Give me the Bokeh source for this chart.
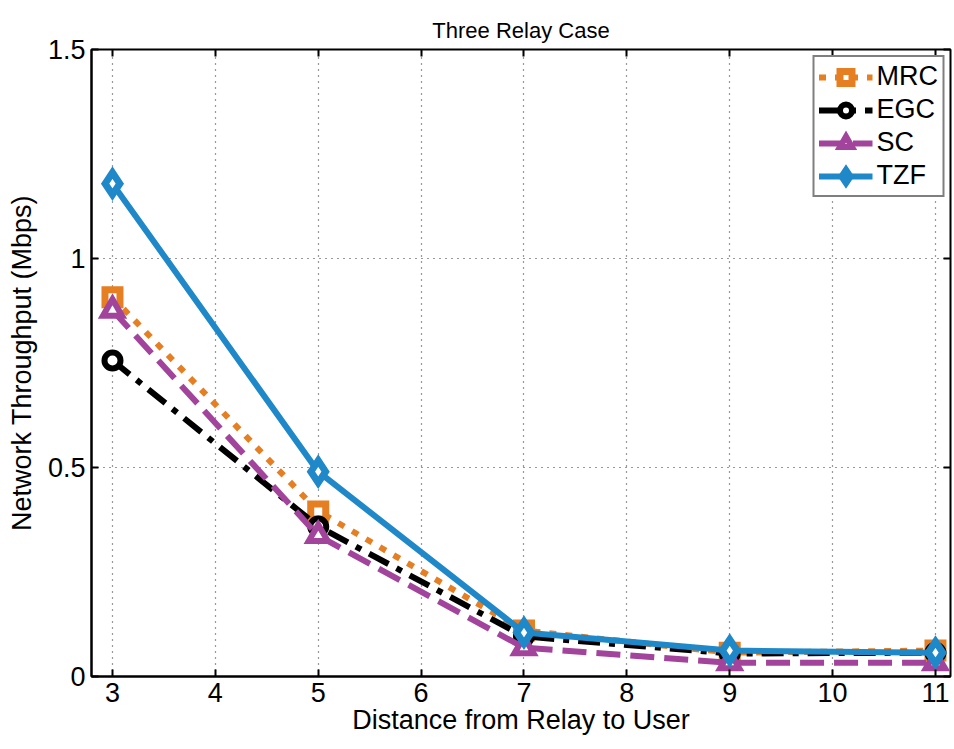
from bokeh.plotting import figure
from bokeh.models import FixedTicker, Range1d, Legend, LegendItem, LinearAxis
from bokeh.embed import file_html
from bokeh.resources import INLINE

distance = [3, 5, 7, 9, 11]
mrc = [0.907, 0.395, 0.110, 0.057, 0.062]
egc = [0.756, 0.359, 0.096, 0.055, 0.057]
sc = [0.876, 0.337, 0.069, 0.033, 0.033]
tzf = [1.179, 0.490, 0.105, 0.062, 0.057]

x_ticks = [3, 4, 5, 6, 7, 8, 9, 10, 11]
y_ticks = [0, 0.5, 1, 1.5]
y_tick_labels = {0: "0", 0.5: "0.5", 1: "1", 1.5: "1.5"}

FONT = "Liberation Sans"

p = figure(width=954, height=749, output_backend="svg", toolbar_location=None,
           x_range=Range1d(2.796, 11.146), y_range=Range1d(0, 1.5),
           min_border_left=91, min_border_right=4, min_border_top=49, min_border_bottom=73,
           title="Three Relay Case")
p.title.text_font = FONT
p.title.text_font_size = "22px"
p.title.text_font_style = "normal"
p.title.text_color = "black"
p.title.align = "center"
p.title.offset = -26
p.title.standoff = 14
p.outline_line_color = "black"
p.outline_line_width = 2
p.background_fill_color = "white"
p.border_fill_color = "white"

for ax, ticks in ((p.xaxis[0], x_ticks), (p.yaxis[0], y_ticks)):
    ax.ticker = FixedTicker(ticks=ticks)
    ax.major_tick_in = 7
    ax.major_tick_out = 0
    ax.minor_tick_line_color = None
    ax.axis_line_width = 2
    ax.axis_line_color = "black"
    ax.major_tick_line_width = 2
    ax.major_tick_line_color = "black"
    ax.major_label_text_font = FONT
    ax.major_label_text_font_size = "27px"
    ax.major_label_text_color = "black"
    ax.axis_label_text_font = FONT
    ax.axis_label_text_font_size = "27px"
    ax.axis_label_text_font_style = "normal"
    ax.axis_label_text_color = "black"
p.yaxis[0].major_label_overrides = y_tick_labels
p.xaxis[0].axis_label = "Distance from Relay to User"
p.yaxis[0].axis_label = "Network Throughput (Mbps)"
p.xaxis[0].axis_label_standoff = 0
p.xaxis[0].major_label_standoff = 6
p.yaxis[0].axis_label_standoff = 8
p.yaxis[0].major_label_standoff = 6

for side, ticks in (("above", x_ticks), ("right", y_ticks)):
    ax = LinearAxis(ticker=FixedTicker(ticks=ticks), major_tick_in=7, major_tick_out=0,
                    minor_tick_line_color=None, axis_line_color=None,
                    major_tick_line_width=2, major_tick_line_color="black",
                    major_label_standoff=0,
                    major_label_overrides={t: "" for t in ticks})
    p.add_layout(ax, side)

p.xgrid.ticker = FixedTicker(ticks=x_ticks)
p.ygrid.ticker = FixedTicker(ticks=y_ticks)
for g in (p.xgrid, p.ygrid):
    g.grid_line_color = "black"
    g.grid_line_dash = "1 5"
    g.grid_line_width = 1.2
    g.grid_line_alpha = 0.8

series = [
    ("MRC", mrc, "#E67E22", "7 9", "square", 15, 7),
    ("EGC", egc, "#000000", "22 9 6 9", "circle", 16, 6),
    ("SC", sc, "#A2449B", "24 10", "triangle", 19, 6),
    ("TZF", tzf, "#1E88C8", "solid", "diamond", 22, 7),
]
items = []
for name, ys, color, dash, marker, size, lw in series:
    l = p.line(distance, ys, line_color=color, line_width=6, line_dash=dash)
    m = p.scatter(distance, ys, marker=marker, size=size, line_color=color,
                  line_width=lw, fill_color="white", line_join="miter")
    items.append(LegendItem(label=name, renderers=[l, m]))

legend = Legend(items=items, location="top_right", border_line_color="black",
                border_line_width=2, label_text_font=FONT, label_text_font_size="27px",
                label_text_color="black",
                glyph_width=54, glyph_height=30, spacing=2, padding=4, margin=6,
                label_standoff=4, background_fill_alpha=1, label_height=30)
p.add_layout(legend)

open("out.html", "w").write(file_html(p, INLINE))
